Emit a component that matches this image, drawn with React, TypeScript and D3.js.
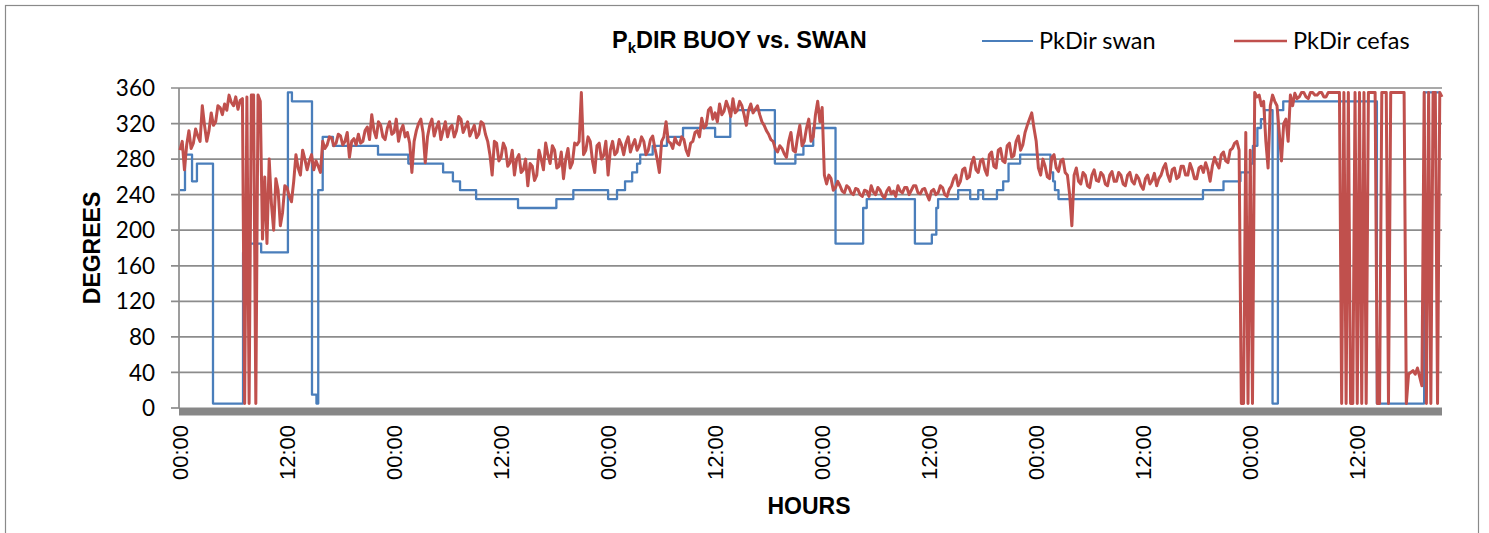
import React from 'react';
import { scaleLinear, line, curveStepAfter, curveLinear } from 'd3';

const W = 1489;
const H = 533;

// y axis ticks (degrees)
const yTicks = [0, 40, 80, 120, 160, 200, 240, 280, 320, 360];

// x axis ticks, hours from start
const xTickHours = [0, 12, 24, 36, 48, 60, 72, 84, 96, 108, 120, 132];
const xTickLabels = ['00:00', '12:00', '00:00', '12:00', '00:00', '12:00', '00:00', '12:00', '00:00', '12:00', '00:00', '12:00'];

// PkDir swan: step changes (hour, degrees)
const swanHours = [
  0, 0.56, 1.35, 1.9, 3.7, 7.07, 7.5, 9.1, 12.1, 12.55,
  14.8, 15.3, 15.5, 16.0, 17.15, 22.2, 25.6, 29.5, 30.6, 31.4,
  33.2, 37.9, 42.2, 44.1, 48.0, 49.0, 49.9, 50.7, 51.25, 51.6,
  53.0, 54.6, 56.4, 60.0, 61.7, 66.7, 69.0, 69.9, 71.0, 73.5,
  76.6, 77.0, 82.4, 84.3, 84.8, 85.0, 87.25, 88.6, 89.5, 90.05,
  91.6, 92.3, 92.9, 94.2, 97.6, 97.9, 98.1, 98.5, 114.7, 117.0,
  118.9, 120.0, 120.3, 120.8, 121.2, 121.6, 122.5, 123.1, 123.7, 134.2,
  139.5, 141.3,
];
const swanDeg = [
  245, 285, 255, 275, 5, 175, 185, 175, 355, 345,
  15, 5, 245, 305, 295, 285, 275, 265, 255, 245,
  235, 225, 235, 245, 235, 245, 255, 265, 275, 285,
  295, 305, 315, 305, 335, 275, 285, 295, 315, 185,
  225, 235, 185, 195, 225, 235, 245, 235, 245, 235,
  245, 255, 275, 285, 265, 255, 245, 235, 245, 255,
  265, 275, 295, 315, 325, 335, 5, 335, 345, 5,
  355, 355,
];

// PkDir cefas: every quarter hour (one row = 5 hours)
const cefasDeg = [
  290, 300, 268, 296, 312, 292, 298, 314, 306, 300, 340, 318, 300, 312, 332, 318, 322, 340, 338, 330,
  342, 335, 352, 344, 340, 350, 336, 346, 348, 5, 350, 5, 352, 352, 5, 352, 345, 190, 260, 185,
  280, 230, 200, 258, 245, 205, 220, 250, 248, 238, 232, 255, 285, 270, 262, 290, 280, 268, 278, 285,
  268, 278, 272, 265, 300, 292, 296, 305, 304, 295, 298, 308, 306, 296, 300, 310, 282, 300, 303, 296,
  308, 298, 300, 312, 316, 302, 330, 312, 304, 322, 318, 305, 302, 315, 322, 308, 310, 325, 300, 312,
  318, 305, 310, 298, 265, 300, 312, 320, 325, 310, 276, 305, 318, 325, 306, 315, 322, 302, 312, 322,
  305, 315, 318, 305, 312, 328, 325, 310, 316, 322, 306, 312, 318, 304, 308, 322, 320, 308, 300, 285,
  262, 300, 298, 278, 282, 298, 292, 272, 276, 290, 262, 280, 285, 265, 268, 280, 250, 275, 272, 256,
  262, 290, 280, 268, 298, 285, 275, 295, 290, 270, 272, 288, 258, 280, 292, 270, 276, 298, 296, 300,
  355, 285, 290, 305, 300, 278, 265, 295, 298, 280, 284, 300, 262, 290, 300, 285, 288, 302, 296, 285,
  298, 305, 288, 296, 302, 290, 295, 305, 300, 285, 290, 302, 306, 292, 280, 265, 300, 305, 322, 300,
  298, 292, 304, 298, 296, 305, 302, 290, 284, 298, 300, 310, 312, 305, 326, 315, 318, 335, 338, 325,
  332, 322, 342, 330, 334, 345, 338, 328, 348, 332, 335, 345, 340, 330, 318, 335, 342, 332, 336, 340,
  330, 322, 318, 312, 308, 302, 300, 292, 288, 295, 292, 286, 282, 300, 310, 290, 288, 305, 318, 295,
  300, 315, 325, 300, 305, 330, 345, 322, 338, 262, 252, 262, 258, 245, 248, 255, 250, 244, 242, 250,
  248, 242, 240, 247, 246, 240, 238, 245, 244, 238, 250, 243, 240, 248, 245, 239, 236, 244, 248, 241,
  244, 238, 250, 244, 242, 248, 248, 240, 245, 250, 250, 242, 241, 246, 247, 240, 234, 244, 246, 240,
  242, 250, 248, 240, 238, 246, 250, 258, 262, 250, 255, 268, 270, 258, 260, 275, 282, 268, 265, 278,
  280, 268, 262, 285, 288, 272, 270, 290, 292, 278, 276, 295, 298, 282, 284, 300, 306, 290, 296, 310,
  318, 325, 332, 315, 300, 270, 262, 280, 272, 260, 258, 282, 285, 270, 266, 278, 280, 265, 262, 240,
  205, 262, 270, 255, 252, 265, 262, 250, 248, 262, 268, 256, 255, 265, 262, 252, 250, 262, 266, 255,
  255, 265, 262, 252, 250, 262, 265, 255, 252, 262, 258, 250, 246, 258, 262, 252, 256, 264, 250, 258,
  262, 270, 275, 262, 255, 268, 270, 258, 260, 272, 272, 262, 262, 275, 268, 258, 258, 270, 272, 265,
  276, 268, 255, 272, 282, 275, 270, 285, 288, 278, 276, 290, 292, 298, 300, 290, 5, 5, 310, 5,
  290, 5, 355, 350, 352, 340, 345, 300, 270, 340, 352, 345, 340, 310, 278, 320, 325, 300, 352, 340,
  354, 348, 350, 355, 355, 350, 348, 355, 355, 352, 352, 355, 355, 350, 350, 355, 355, 355, 355, 355,
  355, 5, 355, 5, 355, 5, 5, 355, 5, 355, 5, 355, 5, 355, 355, 355, 355, 5, 5, 355,
  355, 355, 5, 355, 355, 355, 355, 355, 355, 355, 5, 38, 40, 42, 38, 45, 35, 25, 355, 5,
  355, 5, 355, 355, 5, 355, 350,
];

const BLUE = '#4a7ebb';
const RED = '#c0504d';
const GRID = '#8c8c8c';

const App = () => {
  const left = 179;
  const right = 1442;
  const top = 88;
  const bottom = 408;

  const x = scaleLinear().domain([0, 141.5]).range([180, right]);
  const y = scaleLinear().domain([0, 360]).range([bottom, top]);

  const swanLine = line<number>()
    .x((d, i) => x(swanHours[i]))
    .y((d) => y(d))
    .curve(curveStepAfter);

  const cefasLine = line<number>()
    .x((d, i) => x(i * 0.25))
    .y((d) => y(d))
    .curve(curveLinear);

  return (
    <svg
      width={W}
      height={H}
      style={{ position: 'absolute', left: 0, top: 0, background: '#fff' }}
    >
      <rect x={5.5} y={5.5} width={1473} height={560} fill="#fff" stroke="#8a8a8a" strokeWidth={1.2} />

      {/* title */}
      <text x={612} y={48} fontFamily="Liberation Sans, Arial" fontWeight="bold" fontSize={23.5} fill="#000">
        P
        <tspan fontSize={15} dy={5}>k</tspan>
        <tspan dy={-5}>DIR BUOY vs. SWAN</tspan>
      </text>

      {/* legend */}
      <line x1={982} x2={1033} y1={41} y2={41} stroke={BLUE} strokeWidth={2.2} />
      <text x={1039} y={49} fontFamily="Lato" fontSize={23.5} fill="#000">PkDir swan</text>
      <line x1={1234} x2={1287} y1={41} y2={41} stroke={RED} strokeWidth={2.6} />
      <text x={1293} y={49} fontFamily="Lato" fontSize={23.5} fill="#000">PkDir cefas</text>

      {/* grid */}
      {yTicks.filter((t) => t > 0).map((t) => (
        <line key={t} x1={171} x2={right} y1={y(t)} y2={y(t)} stroke={GRID} strokeWidth={1.7} />
      ))}
      <line x1={171} x2={left} y1={bottom} y2={bottom} stroke={GRID} strokeWidth={1.7} />
      <line x1={left} x2={left} y1={top} y2={bottom} stroke={GRID} strokeWidth={1.7} />

      {/* y tick labels */}
      {yTicks.map((t) => (
        <text key={t} x={155} y={y(t)} dy="0.36em" textAnchor="end" fontFamily="Lato" fontSize={22.5} fill="#000">
          {t}
        </text>
      ))}

      {/* series */}
      <path d={swanLine(swanDeg) || ''} fill="none" stroke={BLUE} strokeWidth={2.3} strokeLinejoin="round" />
      <path d={cefasLine(cefasDeg) || ''} fill="none" stroke={RED} strokeWidth={3} strokeLinejoin="round" />

      {/* bottom axis bar */}
      <rect x={left} y={bottom - 0.5} width={right - left} height={8} fill="#878787" />

      {/* x tick labels */}
      {xTickHours.map((h, i) => (
        <text
          key={i}
          transform={`translate(${x(h)},425) rotate(-90)`}
          dy="0.36em"
          textAnchor="end"
          fontFamily="Liberation Sans, Arial"
          fontSize={22}
          fill="#000"
        >
          {xTickLabels[i]}
        </text>
      ))}

      {/* axis titles */}
      <text x={809} y={514} textAnchor="middle" fontFamily="Liberation Sans, Arial" fontWeight="bold" fontSize={23} fill="#000">
        HOURS
      </text>
      <text
        transform={`translate(92,${(top + bottom) / 2}) rotate(-90)`}
        dy="0.36em"
        textAnchor="middle"
        fontFamily="Liberation Sans, Arial"
        fontWeight="bold"
        fontSize={23}
        fill="#000"
      >
        DEGREES
      </text>
    </svg>
  );
};

export default App;
